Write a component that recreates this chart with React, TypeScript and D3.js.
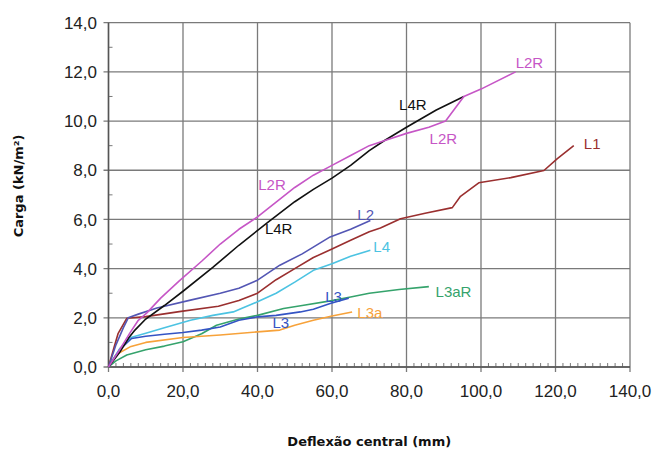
import React from 'react';
import * as d3 from 'd3';

// deflexão central (mm), carga (kN/m²)
const L2R: [number, number][] = [
  [0, 0], [3, 0.7], [5.8, 1.4], [8, 1.9], [10.3, 2.2], [14, 2.8], [19, 3.5], [25, 4.3],
  [30, 5.0], [35, 5.6], [40, 6.1], [45, 6.7], [50, 7.3], [55, 7.8], [60, 8.2], [65, 8.6],
  [70, 9.0], [74, 9.2], [80, 9.5], [86, 9.75], [90.5, 10.0], [95.4, 11.0], [100, 11.3], [109.3, 12.0],
];
const L4R: [number, number][] = [
  [0, 0], [3, 0.6], [5.5, 1.2], [7.1, 1.5], [10, 1.95], [15, 2.5], [20, 3.08], [28, 4.05],
  [35, 4.95], [42.5, 5.85], [50, 6.72], [55, 7.22], [60, 7.68], [65, 8.2], [70, 8.8], [74, 9.2],
  [80, 9.75], [88, 10.45], [95.4, 11.0],
];
const L1: [number, number][] = [
  [0, 0], [1.5, 0.8], [2.6, 1.37], [4.9, 1.98], [10, 2.05], [19, 2.25], [29.5, 2.47], [35, 2.7],
  [40, 3.0], [45, 3.55], [50, 4.0], [55, 4.45], [60, 4.8], [65, 5.15], [70, 5.5], [73, 5.65],
  [78.4, 6.03], [85, 6.25], [92.3, 6.48], [94.5, 6.94], [99.4, 7.49], [108, 7.7], [116.9, 7.99],
  [120.5, 8.47], [124.9, 9.0],
];
const L2: [number, number][] = [
  [0, 0], [2, 0.9], [4, 1.6], [5.3, 2.0], [8, 2.15], [13, 2.4], [22, 2.72], [30, 3.0], [35, 3.2],
  [40, 3.53], [46, 4.14], [52, 4.6], [59.5, 5.29], [65, 5.6], [70.3, 5.96],
];
const L4: [number, number][] = [
  [0, 0], [3, 0.75], [6, 1.2], [10, 1.37], [15, 1.6], [22, 1.9], [28, 2.1], [33.5, 2.24], [36, 2.4],
  [40, 2.65], [45, 3.0], [50, 3.45], [55, 3.93], [60, 4.2], [65, 4.5], [70.3, 4.75],
];
const L3: [number, number][] = [
  [0, 0], [3, 0.7], [6.2, 1.16], [10, 1.25], [15, 1.33], [20, 1.4], [25, 1.5], [30, 1.63], [35, 1.9],
  [40, 2.04], [45, 2.1], [51.5, 2.24], [55, 2.35], [59.5, 2.58], [64.5, 2.8],
];
const L3aR: [number, number][] = [
  [0, 0], [2, 0.25], [4.9, 0.49], [10, 0.7], [15, 0.85], [20, 1.03], [25, 1.35], [29, 1.7], [35, 1.95],
  [40, 2.1], [47, 2.38], [52, 2.5], [60, 2.7], [65, 2.85], [70, 3.0], [78, 3.15], [86, 3.27],
];
const L3a: [number, number][] = [
  [0, 0], [2, 0.5], [5.8, 0.82], [10, 1.0], [20, 1.2], [30, 1.3], [40, 1.43], [46, 1.5], [50, 1.7],
  [55, 1.9], [60, 2.07], [65.4, 2.24],
];

const xTicks = [0, 20, 40, 60, 80, 100, 120, 140];
const yTicks = [0, 2, 4, 6, 8, 10, 12, 14];

const series = [
  { name: 'L3aR', data: L3aR, color: '#35a36c' },
  { name: 'L3a', data: L3a, color: '#f7a23a' },
  { name: 'L4', data: L4, color: '#4cc3e2' },
  { name: 'L3', data: L3, color: '#3454c4' },
  { name: 'L1', data: L1, color: '#9a2f2f' },
  { name: 'L2', data: L2, color: '#5356b4' },
  { name: 'L4R', data: L4R, color: '#111111' },
  { name: 'L2R', data: L2R, color: '#c656c6' },
];

// curve labels: [text, x, y (data units at baseline-left), colour]
const labels: [string, number, number, string][] = [
  ['L2R', 40.2, 7.2, '#c656c6'],
  ['L4R', 42, 5.4, '#111111'],
  ['L4R', 78, 10.47, '#111111'],
  ['L2R', 86.2, 9.05, '#c656c6'],
  ['L2R', 109.3, 12.17, '#c656c6'],
  ['L1', 127.6, 8.88, '#9a2f2f'],
  ['L2', 66.8, 5.96, '#5356b4'],
  ['L4', 71.1, 4.66, '#4cc3e2'],
  ['L3aR', 87.8, 2.84, '#35a36c'],
  ['L3', 58.2, 2.64, '#3454c4'],
  ['L3', 44, 1.58, '#3454c4'],
  ['L3a', 66.8, 1.99, '#f7a23a'],
];

const W = 654;
const H = 453;
const left = 108.5;
const right = 630;
const top = 22.7;
const bottom = 367;

export default function App() {
  const x = d3.scaleLinear().domain([0, 140]).range([left, right]);
  const y = d3.scaleLinear().domain([0, 14]).range([bottom, top]);
  const line = d3.line<[number, number]>().x((d) => x(d[0])).y((d) => y(d[1]));
  const fmt = (v: number) => v.toFixed(1).replace('.', ',');
  const xMinor = d3.range(0, 141, 2).filter((v) => v % 20 !== 0);
  const yMinor = d3.range(1, 14, 2);
  const sans = 'Liberation Sans, Arial, sans-serif';

  return (
    <svg width={W} height={H} style={{ position: 'absolute', left: 0, top: 0, background: '#fff' }}>
      <rect width={W} height={H} fill="#fff" />
      {/* grid */}
      {yTicks.map((t) => (
        <line key={'gy' + t} x1={left - 5} x2={right} y1={y(t)} y2={y(t)} stroke="#7a7a7a" strokeWidth={1.3} />
      ))}
      {xTicks.map((t) => (
        <line key={'gx' + t} x1={x(t)} x2={x(t)} y1={top} y2={bottom + 5} stroke="#7a7a7a" strokeWidth={1.3} />
      ))}
      {xMinor.map((t) => (
        <line key={'mx' + t} x1={x(t)} x2={x(t)} y1={bottom} y2={bottom - 4} stroke="#7a7a7a" strokeWidth={1} />
      ))}
      {yMinor.map((t) => (
        <line key={'my' + t} x1={left} x2={left + 4} y1={y(t)} y2={y(t)} stroke="#7a7a7a" strokeWidth={1} />
      ))}
      <line x1={left} x2={left} y1={top} y2={bottom} stroke="#555" strokeWidth={1.5} />
      <line x1={left} x2={right} y1={bottom} y2={bottom} stroke="#555" strokeWidth={1.5} />

      {/* tick labels */}
      {yTicks.map((t) => (
        <text key={'ty' + t} x={97} y={y(t)} dy="0.36em" textAnchor="end" fontFamily={sans} fontSize={17} fill="#222">
          {fmt(t)}
        </text>
      ))}
      {xTicks.map((t) => (
        <text key={'tx' + t} x={x(t)} y={397} textAnchor="middle" fontFamily={sans} fontSize={17} fill="#222">
          {fmt(t)}
        </text>
      ))}

      {/* series */}
      {series.map((s) => (
        <path key={s.name} d={line(s.data) ?? ''} fill="none" stroke={s.color} strokeWidth={1.6} strokeLinejoin="round" />
      ))}
      {labels.map(([t, lx, ly, c], i) => (
        <text key={'l' + i} x={x(lx)} y={y(ly)} fontFamily={sans} fontSize={15} fill={c}>
          {t}
        </text>
      ))}

      {/* axis titles */}
      <text x={(left + right) / 2} y={446} textAnchor="middle" fontFamily="DejaVu Sans, sans-serif" fontWeight="bold" fontSize={13} fill="#111">
        Deflexão central (mm)
      </text>
      <text
        transform={`translate(23,186) rotate(-90)`}
        textAnchor="middle"
        fontFamily="DejaVu Sans, sans-serif"
        fontWeight="bold"
        fontSize={13}
        fill="#111"
      >
        Carga (kN/m²)
      </text>
    </svg>
  );
}
